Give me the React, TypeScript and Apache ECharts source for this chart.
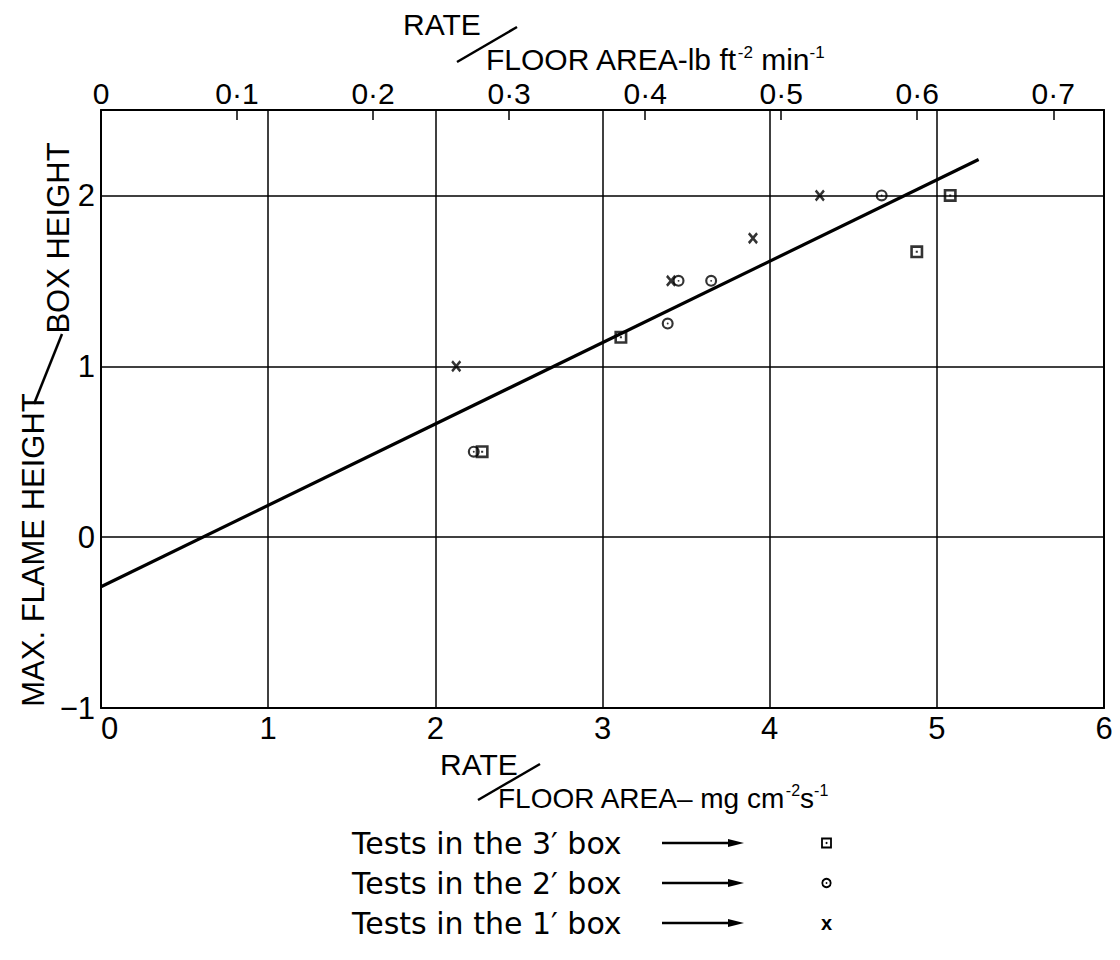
import React, { useEffect, useRef } from "react";
import * as echarts from "echarts";

// ---- data ----
const box3X = [2.28, 3.11, 4.88, 5.08];
const box3Y = [0.5, 1.17, 1.67, 2.0];
const box2X = [2.23, 3.39, 3.455, 3.65, 4.67];
const box2Y = [0.5, 1.25, 1.5, 1.5, 2.0];
const box1X = [2.125, 3.41, 3.9, 4.3];
const box1Y = [1.0, 1.5, 1.75, 2.0];
const fitX = [0, 5.25];
const fitY = [-0.29, 2.21];
const bottomTicks = [0, 1, 2, 3, 4, 5, 6];
const leftTicks = [-1, 0, 1, 2];
const topTicks = ["0", "0·1", "0·2", "0·3", "0·4", "0·5", "0·6", "0·7"];
const legendLabels = ["Tests in the 3′ box", "Tests in the 2′ box", "Tests in the 1′ box"];
const MG_PER_LB = 8.138; // mg cm^-2 s^-1 per lb ft^-2 min^-1

const FONT = '"Liberation Sans", Arial, sans-serif';
const LEGEND_FONT = '"DejaVu Sans", sans-serif';

const SQUARE =
  "path://M0 0H10V10H0Z M2 2V8H8V2Z M4.2 4.2H5.8V5.8H4.2Z";
const CIRCLE =
  "path://M0 5A5 5 0 1 0 10 5A5 5 0 1 0 0 5Z M1.8 5A3.2 3.2 0 1 1 8.2 5A3.2 3.2 0 1 1 1.8 5Z M4.2 5A0.8 0.8 0 1 0 5.8 5A0.8 0.8 0 1 0 4.2 5Z";
const CROSS =
  "path://M0 1.7L1.7 0L5 3.3L8.3 0L10 1.7L6.7 5L10 8.3L8.3 10L5 6.7L1.7 10L0 8.3L3.3 5Z";

function zip(xs: number[], ys: number[]) {
  return xs.map((x, i) => [x, ys[i]]);
}

export default function App() {
  const ref = useRef<HTMLDivElement>(null);
  useEffect(() => {
    document.body.style.margin = "0";
    if (!ref.current) return;
    const chart = echarts.init(ref.current, null, { renderer: "svg" });
    const black = "#000";
    const legendY = [843, 883, 923];
    const legendGraphics: any[] = [];
    legendLabels.forEach((t, i) => {
      const y = legendY[i];
      legendGraphics.push({
        type: "text",
        x: 352,
        y,
        style: { text: t, fontSize: 30, fontFamily: LEGEND_FONT, fill: black, align: "left", verticalAlign: "middle", textAlign: "left", textVerticalAlign: "middle" },
      });
      legendGraphics.push({
        type: "line",
        shape: { x1: 662, y1: y, x2: 734, y2: y },
        style: { stroke: black, lineWidth: 2.5 },
      });
      legendGraphics.push({
        type: "polygon",
        shape: { points: [[728, y - 4], [744, y], [728, y + 4]] },
        style: { fill: black },
      });
    });
    legendGraphics.push(
      { type: "rect", shape: { x: 822, y: legendY[0] - 4.5, width: 9, height: 9 }, style: { fill: "#fff", stroke: black, lineWidth: 1.8 } },
      { type: "circle", shape: { cx: 826.5, cy: legendY[0], r: 1 }, style: { fill: black } },
      { type: "circle", shape: { cx: 826.5, cy: legendY[1], r: 4.2 }, style: { fill: "#fff", stroke: black, lineWidth: 1.8 } },
      { type: "circle", shape: { cx: 826.5, cy: legendY[1], r: 0.9 }, style: { fill: black } },
      { type: "text", x: 826.5, y: legendY[2], style: { text: "x", fontSize: 20, fontWeight: "bold", fontFamily: FONT, fill: black, align: "center", verticalAlign: "middle", textAlign: "center", textVerticalAlign: "middle" } }
    );

    const rich = {
      a: { fontSize: 30, fontFamily: FONT, fill: black, lineHeight: 30, verticalAlign: "bottom" },
      s: { fontSize: 17, fontFamily: FONT, fill: black, lineHeight: 30, verticalAlign: "top" },
    };
    const richBottom = {
      a: { fontSize: 28, fontFamily: FONT, fill: black, lineHeight: 30, verticalAlign: "bottom" },
      s: { fontSize: 16, fontFamily: FONT, fill: black, lineHeight: 30, verticalAlign: "top" },
    };

    chart.setOption({
      animation: false,
      backgroundColor: "#fff",
      grid: { left: 101, right: 16, top: 110, bottom: 252, containLabel: false },
      xAxis: [
        {
          type: "value",
          position: "bottom",
          min: 0,
          max: 6,
          interval: 1,
          axisLine: { show: true, onZero: false, lineStyle: { color: black, width: 2 } },
          axisTick: { show: false },
          splitLine: { show: true, lineStyle: { color: black, width: 1.5 } },
          axisLabel: {
            color: black,
            fontSize: 31,
            fontFamily: FONT,
            margin: 5,
            alignMinLabel: "left",
            formatter: (v: number) => (bottomTicks.includes(v) ? String(v) : ""),
          },
        },
        {
          type: "value",
          position: "top",
          min: 0,
          max: 6 / MG_PER_LB,
          interval: 0.1,
          axisLine: { show: true, onZero: false, lineStyle: { color: black, width: 2 } },
          axisTick: { show: true, inside: true, length: 10, lineStyle: { color: black, width: 1.5 } },
          splitLine: { show: false },
          axisLabel: {
            color: black,
            fontSize: 30,
            fontFamily: FONT,
            margin: 2,
            formatter: (v: number) => {
              const k = Math.round(v * 10);
              if (Math.abs(v * 10 - k) > 1e-6) return "";
              return topTicks[k] ?? "";
            },
          },
        },
      ],
      yAxis: [
        {
          type: "value",
          min: -1,
          max: 2.5,
          interval: 1,
          axisLine: { show: true, onZero: false, lineStyle: { color: black, width: 2 } },
          axisTick: { show: false },
          splitLine: { show: true, lineStyle: { color: black, width: 1.5 } },
          axisLabel: {
            color: black,
            fontSize: 31,
            fontFamily: FONT,
            margin: 6,
            formatter: (v: number) =>
              leftTicks.includes(v) ? (v < 0 ? "−" + String(-v) : String(v)) : "",
          },
        },
        {
          type: "value",
          position: "right",
          min: -1,
          max: 2.5,
          interval: 1,
          axisLine: { show: true, onZero: false, lineStyle: { color: black, width: 2 } },
          axisTick: { show: false },
          axisLabel: { show: false },
          splitLine: { show: false },
        },
      ],
      series: [
        {
          type: "line",
          data: zip(fitX, fitY),
          symbol: "none",
          lineStyle: { color: black, width: 3.2 },
          z: 3,
        },
        {
          type: "scatter",
          name: "3' box",
          data: zip(box3X, box3Y),
          symbol: SQUARE,
          symbolSize: 13,
          itemStyle: { color: black },
          z: 4,
        },
        {
          type: "scatter",
          name: "2' box",
          data: zip(box2X, box2Y),
          symbol: CIRCLE,
          symbolSize: 12,
          itemStyle: { color: black },
          z: 4,
        },
        {
          type: "scatter",
          name: "1' box",
          data: zip(box1X, box1Y),
          symbol: CROSS,
          symbolSize: [10, 12],
          itemStyle: { color: black },
          z: 4,
        },
      ],
      graphic: [
        {
          type: "text",
          x: 33,
          y: 550,
          rotation: Math.PI / 2,
          style: { text: "MAX. FLAME HEIGHT", fontSize: 31, fontFamily: FONT, fill: black, align: "center", verticalAlign: "middle", textAlign: "center", textVerticalAlign: "middle" },
        },
        {
          type: "text",
          x: 58,
          y: 238,
          rotation: Math.PI / 2,
          style: { text: "BOX HEIGHT", fontSize: 31, fontFamily: FONT, fill: black, align: "center", verticalAlign: "middle", textAlign: "center", textVerticalAlign: "middle" },
        },
        { type: "line", shape: { x1: 34, y1: 404, x2: 62, y2: 334 }, style: { stroke: black, lineWidth: 2.5 } },
        {
          type: "text",
          x: 403,
          y: 24,
          style: { text: "RATE", fontSize: 30, fontFamily: FONT, fill: black, align: "left", verticalAlign: "middle", textAlign: "left", textVerticalAlign: "middle" },
        },
        { type: "line", shape: { x1: 457, y1: 62, x2: 517, y2: 27 }, style: { stroke: black, lineWidth: 2.5 } },
        {
          type: "text",
          x: 486,
          y: 59,
          style: { text: "{a|FLOOR AREA-lb ft}{s|-2}{a| min}{s|-1}", rich, align: "left", verticalAlign: "middle", textAlign: "left", textVerticalAlign: "middle" },
        },
        {
          type: "text",
          x: 440,
          y: 764,
          style: { text: "RATE", fontSize: 30, fontFamily: FONT, fill: black, align: "left", verticalAlign: "middle", textAlign: "left", textVerticalAlign: "middle" },
        },
        { type: "line", shape: { x1: 478, y1: 800, x2: 540, y2: 764 }, style: { stroke: black, lineWidth: 2.5 } },
        {
          type: "text",
          x: 498,
          y: 797,
          style: { text: "{a|FLOOR AREA– mg cm}{s|-2}{a|s}{s|-1}", rich: richBottom, align: "left", verticalAlign: "middle", textAlign: "left", textVerticalAlign: "middle" },
        },
        ...legendGraphics,
      ],
    });
    return () => chart.dispose();
  }, []);
  return <div ref={ref} style={{ width: 1120, height: 960 }} />;
}
